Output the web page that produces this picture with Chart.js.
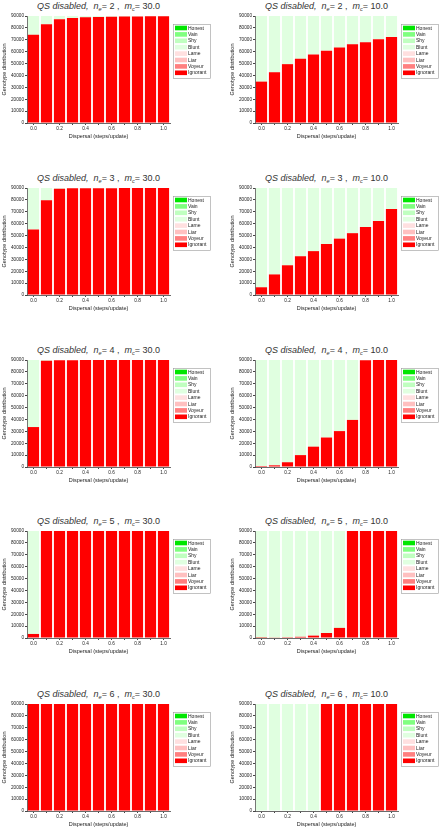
<!DOCTYPE html>
<html>
<head>
<meta charset="utf-8">
<title>Genotype distribution, QS disabled</title>
<script src="https://cdn.jsdelivr.net/npm/chart.js@4/dist/chart.umd.min.js"></script>
<style>
  html, body { margin: 0; padding: 0; background: #fff; width: 443px; height: 830px; overflow: hidden; }
  canvas { position: absolute; }
  .title {
    position: absolute; width: 143px; text-align: center; white-space: nowrap;
    font: 9px "Liberation Sans", Arial, sans-serif; color: #333; line-height: 12px;
  }
  .title sub { font-size: 5.5px; vertical-align: -2px; line-height: 0; }
</style>
</head>
<body>
<script>
// x categories (dispersal, steps/update)
const dispersal = ["0.0", "0.1", "0.2", "0.3", "0.4", "0.5", "0.6", "0.7", "0.8", "0.9", "1.0"];
const genotypes = ["Honest", "Vain", "Shy", "Blunt", "Lame", "Liar", "Voyeur", "Ignorant"];
const genotypeColors = ["#00e600", "#80ff80", "#c0ffc0", "#e0ffe0", "#ffe0e0", "#ffc0c0", "#ff8080", "#ff0000"];
const noneSeries = [0, 0, 0, 0, 0, 0, 0, 0, 0, 0, 0];

// n_e = 2
const ignorantN2M30 = [74200, 83000, 87200, 88300, 88900, 89200, 89400, 89500, 89600, 89700, 89700];
const bluntN2M30 = [15800, 7000, 2800, 1700, 1100, 800, 600, 500, 400, 300, 300];
const ignorantN2M10 = [34800, 42700, 49500, 54000, 57700, 60800, 63400, 66200, 67900, 70500, 72400];
const bluntN2M10 = [55200, 47300, 40500, 36000, 32300, 29200, 26600, 23800, 22100, 19500, 17600];
// n_e = 3
const ignorantN3M30 = [55100, 79600, 89400, 89700, 89800, 89800, 89800, 89900, 89900, 89900, 89900];
const bluntN3M30 = [34900, 10400, 600, 300, 200, 200, 200, 100, 100, 100, 100];
const ignorantN3M10 = [6500, 17300, 25000, 32600, 36900, 42900, 47400, 52000, 57100, 62200, 72400];
const bluntN3M10 = [83500, 72700, 65000, 57400, 53100, 47100, 42600, 38000, 32900, 27800, 17600];
// n_e = 4
const ignorantN4M30 = [33600, 89300, 89700, 89800, 89900, 89900, 89900, 89900, 89900, 89900, 89900];
const bluntN4M30 = [56400, 700, 300, 200, 100, 100, 100, 100, 100, 100, 100];
const ignorantN4M10 = [850, 1400, 4000, 10000, 17100, 24800, 30200, 39600, 89800, 89900, 89900];
const bluntN4M10 = [89150, 88600, 86000, 80000, 72900, 65200, 59800, 50400, 200, 100, 100];
// n_e = 5
const ignorantN5M30 = [3400, 89900, 89900, 89900, 89900, 89900, 89900, 89900, 89900, 89900, 89900];
const bluntN5M30 = [86600, 100, 100, 100, 100, 100, 100, 100, 100, 100, 100];
const ignorantN5M10 = [100, 300, 700, 1000, 2000, 4200, 8500, 89900, 89900, 89900, 89900];
const bluntN5M10 = [89900, 89700, 89300, 89000, 88000, 85800, 81500, 100, 100, 100, 100];
// n_e = 6
const ignorantN6M30 = [90000, 90000, 90000, 90000, 90000, 90000, 90000, 90000, 90000, 90000, 90000];
const bluntN6M30 = [0, 0, 0, 0, 0, 0, 0, 0, 0, 0, 0];
const ignorantN6M10 = [0, 0, 0, 0, 0, 90000, 90000, 90000, 90000, 90000, 90000];
const bluntN6M10 = [90000, 90000, 90000, 90000, 90000, 0, 0, 0, 0, 0, 0];

const panels = [
  { ne: 2, mc: "30.0", ignorant: ignorantN2M30, blunt: bluntN2M30 },
  { ne: 2, mc: "10.0", ignorant: ignorantN2M10, blunt: bluntN2M10 },
  { ne: 3, mc: "30.0", ignorant: ignorantN3M30, blunt: bluntN3M30 },
  { ne: 3, mc: "10.0", ignorant: ignorantN3M10, blunt: bluntN3M10 },
  { ne: 4, mc: "30.0", ignorant: ignorantN4M30, blunt: bluntN4M30 },
  { ne: 4, mc: "10.0", ignorant: ignorantN4M10, blunt: bluntN4M10 },
  { ne: 5, mc: "30.0", ignorant: ignorantN5M30, blunt: bluntN5M30 },
  { ne: 5, mc: "10.0", ignorant: ignorantN5M10, blunt: bluntN5M10 },
  { ne: 6, mc: "30.0", ignorant: ignorantN6M30, blunt: bluntN6M30 },
  { ne: 6, mc: "10.0", ignorant: ignorantN6M10, blunt: bluntN6M10 },
];

const colLeft = [0, 228];
const rowTop = [16, 188, 360, 531, 704]; // top of each plot area
const font = "'Liberation Sans', Arial, sans-serif";

// small framed legend to the right of the plot, Honest on top
const boxLegend = {
  id: "boxLegend",
  afterDraw(chart) {
    const { ctx, chartArea } = chart;
    const x = chartArea.right + 3;
    const y = chartArea.top + 8;
    ctx.save();
    ctx.strokeStyle = "#9a9a9a";
    ctx.lineWidth = 0.6;
    ctx.strokeRect(x + 0.5, y + 0.5, 37, 54);
    ctx.font = "5px " + font;
    ctx.textBaseline = "middle";
    genotypes.forEach((name, i) => {
      const cy = y + 4 + i * 6.4;
      ctx.fillStyle = genotypeColors[i];
      ctx.fillRect(x + 2, cy - 2.3, 12, 4.6);
      ctx.fillStyle = "#222";
      ctx.fillText(name, x + 15, cy + 0.3);
    });
    ctx.restore();
  },
};

panels.forEach((p, k) => {
  const left = colLeft[k % 2];
  const top = rowTop[Math.floor(k / 2)];

  const title = document.createElement("div");
  title.className = "title";
  title.style.left = left + 27 + "px";
  title.style.top = top - 16 + "px";
  title.innerHTML = `<i>QS disabled,</i>&nbsp; <i>n</i><sub><i>e</i></sub>= ${p.ne} ,&nbsp; <i>m</i><sub><i>c</i></sub>= ${p.mc}`;
  document.body.appendChild(title);

  const canvas = document.createElement("canvas");
  canvas.width = 214;
  canvas.height = 135;
  canvas.style.left = left + "px";
  canvas.style.top = top - 4 + "px";
  document.body.appendChild(canvas);

  // stack from the bottom: Ignorant first, Honest last
  const datasets = genotypes.map((name, i) => ({
    label: name,
    data: name === "Ignorant" ? p.ignorant : name === "Blunt" ? p.blunt : noneSeries,
    backgroundColor: genotypeColors[i],
    borderWidth: 0,
    barPercentage: 0.86,
    categoryPercentage: 1,
  })).reverse();

  new Chart(canvas, {
    type: "bar",
    data: { labels: dispersal, datasets },
    plugins: [boxLegend],
    options: {
      responsive: false,
      animation: false,
      layout: { padding: { top: 4, right: 44, left: 0, bottom: 0 } },
      plugins: { legend: { display: false }, tooltip: { enabled: false } },
      scales: {
        x: {
          stacked: true,
          afterFit: (s) => { s.height = 24; },
          border: { color: "#444", width: 0.8 },
          grid: { display: true, drawOnChartArea: false, offset: false, tickLength: 2, color: "#444" },
          ticks: {
            autoSkip: false, maxRotation: 0, padding: 0.5, color: "#222",
            font: { size: 4.7, family: font },
            callback: (v, i) => (i % 2 === 0 ? dispersal[i] : ""),
          },
          title: {
            display: true, text: "Dispersal (steps/update)", color: "#222",
            font: { size: 5.5, family: font }, padding: { top: 0, bottom: 7 },
          },
        },
        y: {
          stacked: true,
          min: 0, max: 90000,
          afterFit: (s) => { s.width = 27; },
          border: { color: "#444", width: 0.8 },
          grid: { display: true, drawOnChartArea: false, tickLength: 2, color: "#444" },
          ticks: {
            stepSize: 5000, padding: 1, color: "#222",
            font: { size: 4.7, family: font },
            callback: (v) => (v % 10000 === 0 ? String(v) : ""),
          },
          title: {
            display: true, text: "Genotype distribution", color: "#222",
            font: { size: 5.5, family: font }, padding: { top: 1, bottom: 0 },
          },
        },
      },
    },
  });
});
</script>
</body>
</html>
